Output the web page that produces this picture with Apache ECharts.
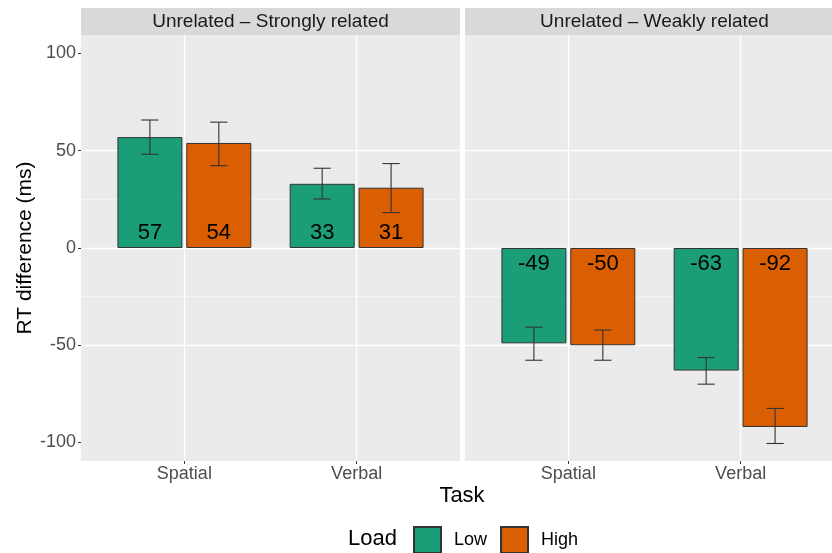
<!DOCTYPE html>
<html>
<head>
<meta charset="utf-8">
<script src="https://cdn.jsdelivr.net/npm/echarts@6/dist/echarts.min.js"></script>
<style>
  html, body { margin: 0; padding: 0; background: #fff; }
  #chart { width: 832px; height: 553px; }
</style>
</head>
<body>
<div id="chart"></div>
<script>
// two facets, bars dodged by Load, error bars on top
const tasks = ['Spatial', 'Verbal'];
const loads = ['Low', 'High'];
const facetTitles = ['Unrelated – Strongly related', 'Unrelated – Weakly related'];

const lowStrong = [57, 33];
const highStrong = [54, 31];
const lowWeak = [-49, -63];
const highWeak = [-50, -92];

// [lower, upper] of each error bar
const lowStrongCI = [[48.2, 65.8], [25.2, 41.0]];
const highStrongCI = [[42.3, 64.7], [18.2, 43.4]];
const lowWeakCI = [[-57.7, -40.7], [-70.0, -56.3]];
const highWeakCI = [[-57.7, -42.2], [-100.5, -82.5]];

const yTicks = [-100, -50, 0, 50, 100];
const yMinorTicks = [-75, -25, 25, 75];
const yMin = -109.5, yMax = 109.5;

const FONT = '"Liberation Sans", Arial, sans-serif';
const COLORS = { Low: '#1B9E77', High: '#D95F02' };

// panel geometry (ggplot: 2 categories + 0.6 expansion each side)
const PANEL_TOP = 35, PANEL_H = 426, PANEL_W = 379;
const panelLeft = [81, 465];
const unit = PANEL_W / 2.2;

const chart = echarts.init(document.getElementById('chart'), null, { renderer: 'canvas' });

const grids = [], xAxes = [], yAxes = [], series = [];

function errRender(side) {
  return function (params, api) {
    const i = api.value(0);
    const lo = api.coord([i, api.value(1)]);
    const hi = api.coord([i, api.value(2)]);
    const band = api.size([1, 0])[0];
    const x = lo[0] + side * 0.2 * band;
    const hw = 0.05 * band;
    const st = { stroke: '#333', lineWidth: 1.1 };
    return {
      type: 'group',
      children: [
        { type: 'line', shape: { x1: x, y1: lo[1], x2: x, y2: hi[1] }, style: st },
        { type: 'line', shape: { x1: x - hw, y1: lo[1], x2: x + hw, y2: lo[1] }, style: st },
        { type: 'line', shape: { x1: x - hw, y1: hi[1], x2: x + hw, y2: hi[1] }, style: st },
      ],
    };
  };
}

const facets = [
  { low: lowStrong, high: highStrong, lowCI: lowStrongCI, highCI: highStrongCI },
  { low: lowWeak, high: highWeak, lowCI: lowWeakCI, highCI: highWeakCI },
];

facets.forEach((f, p) => {
  const left = panelLeft[p];
  const gBg = grids.length;
  grids.push({ left: left, top: PANEL_TOP, width: PANEL_W, height: PANEL_H, show: true,
    backgroundColor: '#EBEBEB', borderWidth: 0, containLabel: false, outerBoundsMode: 'none' });
  const gData = grids.length;
  grids.push({ left: left + 0.1 * unit, top: PANEL_TOP, width: 2 * unit, height: PANEL_H,
    containLabel: false, outerBoundsMode: 'none' });

  // background x: vertical grid lines at category centres
  xAxes.push({
    type: 'value', gridIndex: gBg, min: -0.6, max: 1.6,
    axisLine: { show: false, onZero: false }, axisLabel: { show: false },
    axisTick: { show: false, customValues: [0, 1] },
    splitLine: { show: true, lineStyle: { color: '#FFFFFF', width: 1.4 } },
  });
  const xData = xAxes.length;
  xAxes.push({
    type: 'category', gridIndex: gData, data: tasks, position: 'bottom',
    axisLine: { show: false, onZero: false },
    axisTick: { show: true, alignWithLabel: true, length: 3, lineStyle: { color: '#333', width: 1 } },
    axisLabel: { fontFamily: FONT, fontSize: 18, color: '#4D4D4D', margin: 4 },
    splitLine: { show: false },
  });

  // major y
  yAxes.push({
    type: 'value', gridIndex: gBg, min: yMin, max: yMax, position: 'left',
    name: p === 0 ? 'RT difference (ms)' : '',
    nameLocation: 'middle', nameRotate: 90, nameGap: 44,
    nameTextStyle: { fontFamily: FONT, fontSize: 21, color: '#000' },
    axisLine: { show: false, onZero: false },
    axisTick: { show: p === 0, length: 3, customValues: yTicks, lineStyle: { color: '#333', width: 1 } },
    axisLabel: { show: p === 0, customValues: yTicks, fontFamily: FONT, fontSize: 18, color: '#4D4D4D', margin: 5 },
    splitLine: { show: true, showMinLine: false, showMaxLine: false, lineStyle: { color: '#FFFFFF', width: 1.4 } },
  });
  // minor y
  yAxes.push({
    type: 'value', gridIndex: gBg, min: yMin, max: yMax, position: 'left',
    axisLine: { show: false, onZero: false }, axisLabel: { show: false },
    axisTick: { show: false, customValues: yMinorTicks },
    splitLine: { show: true, showMinLine: false, showMaxLine: false, lineStyle: { color: '#F6F6F6', width: 0.8 } },
  });
  const yData = yAxes.length;
  yAxes.push({ type: 'value', gridIndex: gData, min: yMin, max: yMax, show: false,
    axisLine: { onZero: false }, splitLine: { show: false } });

  [['Low', f.low], ['High', f.high]].forEach(([name, vals]) => {
    series.push({
      name: name, type: 'bar', xAxisIndex: xData, yAxisIndex: yData,
      barWidth: 65, barGap: '6%',
      itemStyle: { color: COLORS[name], borderColor: '#333', borderWidth: 1 },
      label: { show: true, fontFamily: FONT, fontSize: 22, color: '#000', distance: 4 },
      data: vals.map(v => ({ value: v, label: { position: v >= 0 ? 'insideBottom' : 'insideTop', distance: v >= 0 ? 4 : 5 } })),
      z: 2,
    });
  });
  [[f.lowCI, -1], [f.highCI, 1]].forEach(([ci, side]) => {
    series.push({
      type: 'custom', xAxisIndex: xData, yAxisIndex: yData,
      renderItem: errRender(side),
      data: ci.map((c, i) => [i, c[0], c[1]]),
      z: 3, silent: true,
    });
  });
});

const graphic = [];
facetTitles.forEach((t, p) => {
  graphic.push({ type: 'rect', shape: { x: panelLeft[p], y: 8, width: PANEL_W, height: 27 },
    style: { fill: '#D9D9D9' }, silent: true });
  graphic.push({ type: 'text', x: panelLeft[p] + PANEL_W / 2, y: 21.5,
    style: { text: t, fill: '#1A1A1A', font: '19px ' + FONT, textAlign: 'center', textVerticalAlign: 'middle' } });
});
graphic.push({ type: 'text', x: 462, y: 496,
  style: { text: 'Task', fill: '#000', font: '22px ' + FONT, textAlign: 'center', textVerticalAlign: 'middle' } });
graphic.push({ type: 'text', x: 348, y: 539,
  style: { text: 'Load', fill: '#000', font: '22px ' + FONT, textAlign: 'left', textVerticalAlign: 'middle' } });

chart.setOption({
  animation: false,
  backgroundColor: '#FFFFFF',
  grid: grids,
  xAxis: xAxes,
  yAxis: yAxes,
  legend: {
    data: loads, left: 408, top: 521, icon: 'rect',
    itemWidth: 27, itemHeight: 26, itemGap: 13,
    textStyle: { fontFamily: FONT, fontSize: 18, color: '#000', padding: [0, 0, 0, 8] },
  },
  graphic: graphic,
  series: series,
});
</script>
</body>
</html>
